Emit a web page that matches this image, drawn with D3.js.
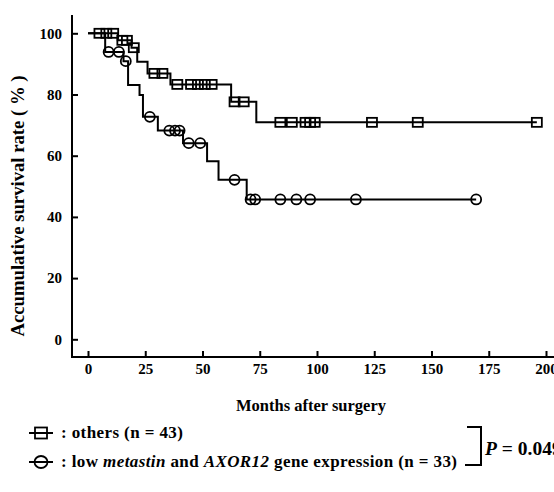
<!DOCTYPE html>
<html><head><meta charset="utf-8">
<script src="https://cdn.jsdelivr.net/npm/d3@7"></script>
<style>
html,body{margin:0;padding:0;background:#fff;}
svg text{font-family:"Liberation Serif","Times New Roman",serif;font-weight:bold;fill:#000;}
</style></head><body>
<svg id="chart" width="554" height="492"></svg>
<script>
// axis ticks
const monthTicks = [0, 25, 50, 75, 100, 125, 150, 175, 200];
const rateTicks = [0, 20, 40, 60, 80, 100];

// others (n = 43): month of each step and survival rate after it
const othersStepMonths = [0, 13, 19, 21.5, 26, 36, 62.5, 73.5];
const othersStepRates = [100, 97.7, 95.3, 90.7, 86.9, 83.3, 77.6, 70.9];
const othersCensored = [5, 8, 11, 15, 17, 20, 29, 32.5, 39, 45, 48, 51, 54, 64, 68, 84, 89, 95, 97, 99, 124, 144, 196];
const othersLastMonth = 196;

// low metastin and AXOR12 expression (n = 33)
const lowStepMonths = [0, 7.5, 15.5, 17.5, 22.5, 24, 30.5, 41.5, 52, 57, 69.3];
const lowStepRates = [100, 93.9, 90.9, 83.1, 79.8, 72.7, 68.2, 64.1, 58.2, 52.1, 45.7];
const lowCensored = [9, 13.5, 16.5, 27, 35.5, 38, 40, 44, 49, 64, 71, 73, 84, 91, 97, 117, 169.5];
const lowLastMonth = 169.5;

const svg = d3.select("#chart");
const x = d3.scaleLinear().domain([0, 200]).range([88, 546]);
const y = d3.scaleLinear().domain([0, 100]).range([339.3, 33.3]);
const axisX0 = 72, axisY0 = 357;

// axis lines
svg.append("line").attr("x1", axisX0).attr("x2", axisX0).attr("y1", 15).attr("y2", axisY0)
  .attr("stroke", "#000").attr("stroke-width", 2);
svg.append("line").attr("x1", axisX0 - 1).attr("x2", 554).attr("y1", axisY0).attr("y2", axisY0)
  .attr("stroke", "#000").attr("stroke-width", 2);

const yAxis = svg.append("g").attr("transform", `translate(${axisX0},0)`)
  .call(d3.axisLeft(y).tickValues(rateTicks).tickSize(-6).tickPadding(10));
const xAxis = svg.append("g").attr("transform", `translate(0,${axisY0})`)
  .call(d3.axisBottom(x).tickValues(monthTicks).tickSize(-6).tickPadding(6));
[yAxis, xAxis].forEach(g => {
  g.select(".domain").remove();
  g.selectAll(".tick line").attr("stroke", "#000").attr("stroke-width", 2);
  g.selectAll(".tick text").attr("font-size", 15).attr("fill", "#000")
    .style("font-family", '"Liberation Serif",serif').style("font-weight", "bold");
});

// axis titles
svg.append("text").attr("transform", "translate(24,206) rotate(-90)")
  .attr("text-anchor", "middle").attr("font-size", 18.7)
  .text("Accumulative survival rate ( % )");
svg.append("text").attr("x", 311).attr("y", 411).attr("text-anchor", "middle")
  .attr("font-size", 16.5).text("Months after surgery");

// survival curves
function rateAt(months, rates, t) {
  let r = rates[0];
  for (let i = 0; i < months.length; i++) if (months[i] <= t) r = rates[i];
  return r;
}
const line = d3.line().x(d => x(d[0])).y(d => y(d[1])).curve(d3.curveStepAfter);

function drawCurve(months, rates, last, censored, marker) {
  const pts = months.map((m, i) => [m, rates[i]]);
  pts.push([last, rates[rates.length - 1]]);
  svg.append("path").attr("d", line(pts)).attr("fill", "none")
    .attr("stroke", "#000").attr("stroke-width", 2);
  const g = svg.append("g");
  censored.forEach(t => {
    const cx = x(t), cy = y(rateAt(months, rates, t));
    if (marker === "square") {
      g.append("rect").attr("x", cx - 5).attr("y", cy - 4.5).attr("width", 10).attr("height", 9)
        .attr("fill", "none").attr("stroke", "#000").attr("stroke-width", 1.8);
    } else {
      g.append("circle").attr("cx", cx).attr("cy", cy).attr("r", 5)
        .attr("fill", "none").attr("stroke", "#000").attr("stroke-width", 1.8);
    }
  });
}
drawCurve(othersStepMonths, othersStepRates, othersLastMonth, othersCensored, "square");
drawCurve(lowStepMonths, lowStepRates, lowLastMonth, lowCensored, "circle");

// legend
const legend = svg.append("g");
const rows = [
  {y: 433, marker: "square"},
  {y: 462, marker: "circle"}
];
rows.forEach(r => {
  legend.append("line").attr("x1", 29).attr("x2", 53).attr("y1", r.y).attr("y2", r.y)
    .attr("stroke", "#000").attr("stroke-width", 2);
  if (r.marker === "square") {
    legend.append("rect").attr("x", 35).attr("y", r.y - 5.5).attr("width", 12).attr("height", 11)
      .attr("fill", "none").attr("stroke", "#000").attr("stroke-width", 1.8);
  } else {
    legend.append("ellipse").attr("cx", 41).attr("cy", r.y).attr("rx", 6.5).attr("ry", 6)
      .attr("fill", "none").attr("stroke", "#000").attr("stroke-width", 1.8);
  }
});
legend.append("text").attr("x", 61).attr("y", 438).attr("font-size", 17)
  .attr("letter-spacing", 0.4).text(": others (n = 43)");
const t2 = legend.append("text").attr("x", 61).attr("y", 467).attr("font-size", 17)
  .attr("letter-spacing", 0.4);
t2.append("tspan").text(": low ");
t2.append("tspan").attr("font-style", "italic").text("metastin");
t2.append("tspan").text(" and ");
t2.append("tspan").attr("font-style", "italic").text("AXOR12");
t2.append("tspan").text(" gene expression (n = 33)");

// bracket and p-value
legend.append("path").attr("d", "M467,427 H481 V465 H465").attr("fill", "none")
  .attr("stroke", "#000").attr("stroke-width", 2);
const p = legend.append("text").attr("x", 485).attr("y", 455).attr("font-size", 19.5);
p.append("tspan").attr("font-style", "italic").text("P");
p.append("tspan").text(" = 0.049");
</script>
</body></html>
